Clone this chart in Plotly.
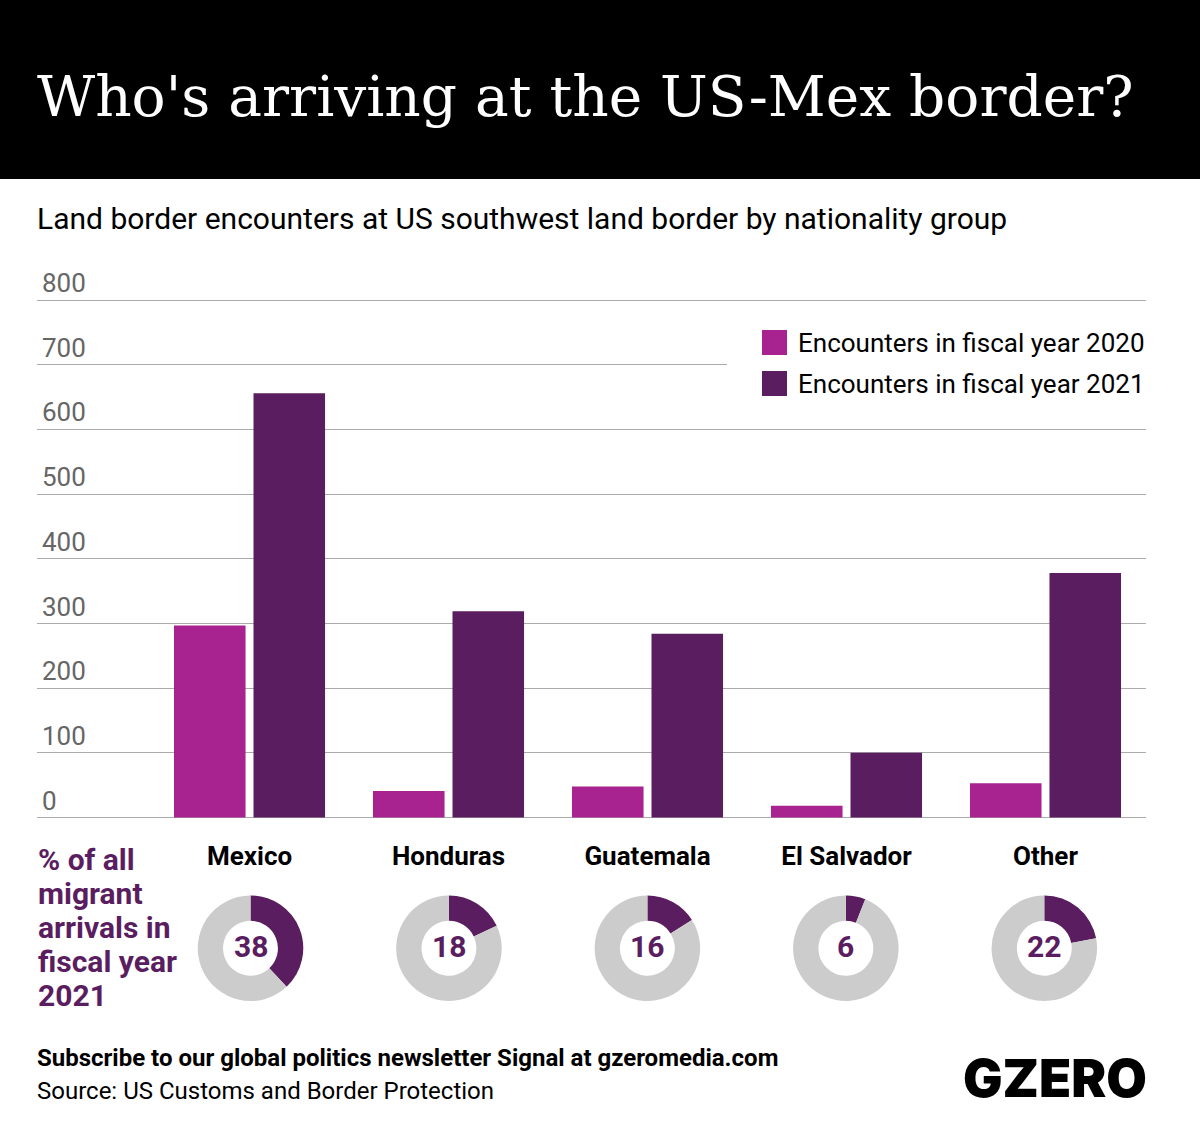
import plotly.graph_objects as go

W, H = 1200, 1128

countries = ["Mexico", "Honduras", "Guatemala", "El Salvador", "Other"]
fy2020 = [297, 41, 48, 18, 53]
fy2021 = [656, 319, 284, 100, 378]
share_2021 = [38, 18, 16, 6, 22]
y_ticks = [0, 100, 200, 300, 400, 500, 600, 700, 800]

series_names = ["Encounters in fiscal year 2020", "Encounters in fiscal year 2021"]
side_label = ["% of all", "migrant", "arrivals in", "fiscal year", "2021"]

PINK = "#A8238F"
PURPLE = "#5A1E60"
GREY = "#CCCCCC"
FONT = "Roboto"


def px(x):
    return x / W


def py(y):
    return 1 - y / H


def label(x, y, text, size, color="#000000", weight=400, family=FONT, xanchor="left"):
    fig.add_annotation(
        x=px(x), y=py(y), xref="paper", yref="paper",
        text=text, showarrow=False,
        xanchor=xanchor, yanchor="middle",
        borderpad=0, borderwidth=0,
        font=dict(family=family, size=size, color=color, weight=weight),
    )


fig = go.Figure()

fig.add_trace(go.Bar(x=countries, y=fy2020, name=series_names[0], marker_color=PINK, marker_line_width=0))
fig.add_trace(go.Bar(x=countries, y=fy2021, name=series_names[1], marker_color=PURPLE, marker_line_width=0))

# one donut per country under the bars
for i, share in enumerate(share_2021):
    cx = 250.5 + i * 198.45
    fig.add_trace(go.Pie(
        values=[share, 100 - share],
        sort=False,
        direction="clockwise",
        rotation=0,
        hole=0.52,
        marker=dict(colors=[PURPLE, GREY], line=dict(width=0)),
        textinfo="none",
        showlegend=False,
        domain=dict(x=[px(cx - 53), px(cx + 53)], y=[py(1001), py(895.5)]),
    ))
    label(cx, 947, str(share), 30, PURPLE, 700, xanchor="center")

fig.update_layout(
    width=W,
    height=H,
    margin=dict(l=0, r=0, t=0, b=0),
    paper_bgcolor="white",
    plot_bgcolor="white",
    showlegend=False,
    barmode="group",
    bargap=0.201,
    bargroupgap=0.1,
    xaxis=dict(
        domain=[px(37), px(1146)],
        range=[-1.068, 4.505],
        type="category",
        categoryorder="array",
        categoryarray=countries,
        showgrid=False,
        showline=False,
        ticks="",
        ticklabelstandoff=18,
        tickfont=dict(family=FONT, size=26, color="#000000", weight=700),
    ),
    yaxis=dict(
        # range runs past 0 and 800 so plotly keeps the end gridlines and the raised 800 label
        domain=[py(820.1), py(251.5)],
        range=[-4, 875],
        tickmode="array",
        tickvals=y_ticks,
        ticks="",
        ticklabelposition="inside",
        ticklabelstandoff=2,
        ticklabelshift=-17,
        tickfont=dict(family=FONT, size=26, color="#666666"),
        showgrid=True,
        gridcolor="#ABABAB",
        gridwidth=1,
        zeroline=False,
    ),
)

# header band, and the white patch that cuts the 700 gridline behind the key
fig.add_shape(type="rect", xref="paper", yref="paper", x0=0, x1=1, y0=py(179), y1=1,
              fillcolor="#000000", line_width=0, layer="above")
fig.add_shape(type="rect", xref="paper", yref="paper", x0=px(727), x1=px(1150), y0=py(405), y1=py(320),
              fillcolor="white", line_width=0, layer="above")

# key
for top, color, name in [(330, PINK, series_names[0]), (371, PURPLE, series_names[1])]:
    fig.add_shape(type="rect", xref="paper", yref="paper", x0=px(762), x1=px(787), y0=py(top + 25), y1=py(top),
                  fillcolor=color, line_width=0, layer="above")
    label(798, top + 13, name, 26)

label(37, 96, "Who's arriving at the US-Mex border?", 56.6, "#FFFFFF", family="DejaVu Serif")
label(37, 218, "Land border encounters at US southwest land border by nationality group", 30)

for i, line in enumerate(side_label):
    label(38, 859.5 + i * 34, line, 30, PURPLE, 700)

label(37, 1058, "Subscribe to our global politics newsletter Signal at gzeromedia.com", 24, weight=700)
label(37, 1090.5, "Source: US Customs and Border Protection", 24)
label(1147, 1078, "GZERO", 52.5, weight=900, family="Inter", xanchor="right")

fig.write_html("out.html", post_script="document.body.style.margin='0';", config=dict(displayModeBar=False))
